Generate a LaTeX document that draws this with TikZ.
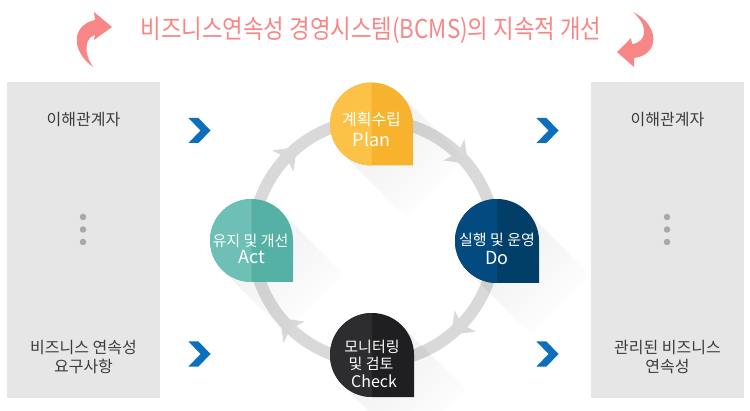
\documentclass[tikz,border=0pt]{standalone}
\usepackage{fontspec}
\setmainfont{Noto Sans CJK KR}
\usetikzlibrary{fadings}
\definecolor{titlec}{HTML}{F98686}
\definecolor{panelc}{HTML}{E6E6E6}
\definecolor{paneltxt}{HTML}{3C3C3C}
\definecolor{dotc}{HTML}{A8A8A8}
\definecolor{chevc}{HTML}{0B6FBE}
\definecolor{ringc}{HTML}{D9D9D9}
\definecolor{planL}{HTML}{FCC247}
\definecolor{planD}{HTML}{F7B32E}
\definecolor{doL}{HTML}{034A80}
\definecolor{doD}{HTML}{013F68}
\definecolor{chkL}{HTML}{2D2D2F}
\definecolor{chkD}{HTML}{1F1F21}
\definecolor{actL}{HTML}{6EBFB5}
\definecolor{actD}{HTML}{55B0A5}
\tikzfading[name=shfade, left color=transparent!0, right color=transparent!100]
\newcommand\drawblob[5]{%
  \fill[black, opacity=0.065, path fading=shfade, fading angle=-45]
    ({#1+0.7071*#3},{#2+0.7071*#3}) -- ++(64,-64)
    -- ({#1-0.7071*#3+64},{#2-0.7071*#3-64}) -- ({#1-0.7071*#3},{#2-0.7071*#3}) -- cycle;
  \fill[#5] ({#1+#3},#2) arc[start angle=0,end angle=270,radius=#3] -- ({#1+#3},{#2-#3}) -- cycle;
  \fill[#4] (#1,{#2+#3}) arc[start angle=90,end angle=270,radius=#3] -- cycle;
}
\newcommand\chev[2]{%
  \fill[chevc] ({#1-11},{#2+12.5}) -- ++(10,0) -- ++(12,-12.5) -- ++(-12,-12.5) -- ++(-10,0) -- ++(12,12.5) -- cycle;
}
\newcommand\ringtip[1]{%
  \fill[ringc, shift={({374+121*cos(#1)},{169+121*sin(#1)})}, rotate=#1-90]
    (12,0) -- (-8,15) -- (-3,0) -- (-8,-15) -- cycle;
}
\begin{document}
\begin{tikzpicture}[x=1pt,y=1pt,
  panel/.style={fill=panelc, draw=none, minimum width=153, minimum height=316, inner sep=0},
  paneltext/.style={text=paneltxt, font=\fontsize{16}{19}\selectfont, align=center, inner sep=0},
  kotext/.style={text=white, font=\fontsize{15}{18}\selectfont, inner sep=0},
  entext/.style={text=white, font=\fontsize{18}{20}\selectfont, inner sep=0},
  dotstyle/.style={circle, fill=dotc, minimum size=6.5, inner sep=0}]
\useasboundingbox (0,0) rectangle (750,410);
% title
\node[anchor=base, text=titlec, inner sep=0] (title) at (371,371)
  {\fontsize{26}{30}\selectfont\scalebox{0.86}[1]{비즈니스연속성 경영시스템(BCMS)의 지속적 개선}};
\fill[titlec] (93,343) .. controls (70,360) and (72,385) .. (95,390) -- (94,398) -- (112,383)
  -- (94,370) -- (95,375) .. controls (85,372) and (83,358) .. (93,343) -- cycle;
\fill[titlec] (633,398) .. controls (660,385) and (660,355) .. (634,352) -- (634,343) -- (617,358)
  -- (631,372) -- (632,366) .. controls (648,368) and (648,385) .. (633,398) -- cycle;
% panels
\node[panel] (lp) at (83.5,170) {};
\node[panel] (rp) at (667.5,170) {};
\node[paneltext] (lt) at (83.5,290) {이해관계자};
\node[paneltext] (lb) at (83.5,52.5) {비즈니스 연속성\\요구사항};
\node[paneltext] (rt) at (667.5,290) {이해관계자};
\node[paneltext] (rb) at (667.5,52.5) {관리된 비즈니스\\연속성};
\node[dotstyle] (ld1) at (83,193) {};
\node[dotstyle] (ld2) at (83,180.5) {};
\node[dotstyle] (ld3) at (83,168) {};
\node[dotstyle] (rd1) at (667,193) {};
\node[dotstyle] (rd2) at (667,180.5) {};
\node[dotstyle] (rd3) at (667,168) {};
% chevrons
\chev{199.5}{279.5}
\chev{199.5}{56}
\chev{547.5}{279.5}
\chev{547.5}{56}
% ring
\draw[ringc, line width=12] (374,169) circle[radius=121];
\ringtip{45}
\ringtip{-45}
\ringtip{-135}
\ringtip{135}
% blobs
\drawblob{371.5}{286}{41.5}{planL}{planD}
\drawblob{497}{169}{42}{doL}{doD}
\drawblob{372}{55}{42}{chkL}{chkD}
\drawblob{251.5}{169.5}{41.5}{actL}{actD}
\node[kotext, font=\fontsize{16}{18}\selectfont] (plank) at (371.5,290.5) {계획수립};
\node[entext] (plane) at (371.5,270.5) {Plan};
\node[kotext] (dok) at (497,170) {실행 및 운영};
\node[entext] (doe) at (497,151.5) {Do};
\node[kotext] (chk1) at (372,63.5) {모니터링};
\node[kotext] (chk2) at (371,46) {및 검토};
\node[entext, font=\fontsize{16}{18}\selectfont] (chke) at (374,29) {Check};
\node[kotext] (actk) at (250.5,169) {유지 및 개선};
\node[entext] (acte) at (251.5,152.5) {Act};
\end{tikzpicture}
\end{document}
